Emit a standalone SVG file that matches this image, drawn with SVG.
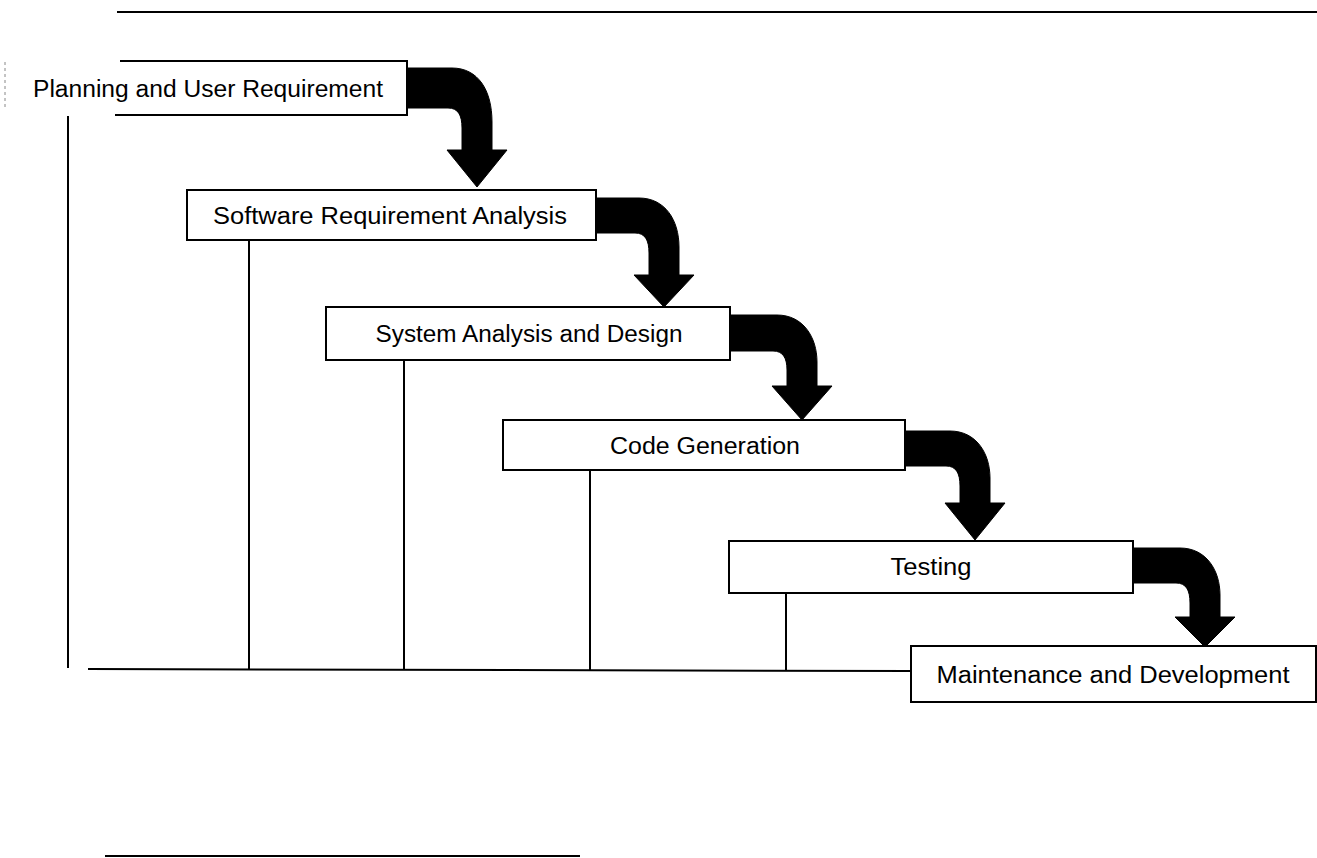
<svg xmlns="http://www.w3.org/2000/svg" width="1317" height="858" viewBox="0 0 1317 858">
<style>
.box{fill:#fff;stroke:#000;stroke-width:2}
.ln{fill:none;stroke:#000;stroke-width:2}
.lbl{font-family:"Liberation Sans",Arial,sans-serif;font-size:23px;fill:#000;text-anchor:middle;dominant-baseline:central}
.arr{fill:#000;stroke:#000;stroke-width:1}
</style>
<rect width="1317" height="858" fill="#fff"/>
<g id="frame">
<line class="ln" x1="117" y1="12" x2="1317" y2="12"/>
<line class="ln" x1="105" y1="856" x2="580" y2="856"/>
<line x1="5" y1="62" x2="5" y2="110" stroke="#888" stroke-width="1" stroke-dasharray="3,3"/>
</g>
<g id="connectors">
<line class="ln" x1="68" y1="116" x2="68" y2="668"/>
<line class="ln" x1="249" y1="240" x2="249" y2="669"/>
<line class="ln" x1="404" y1="360" x2="404" y2="669"/>
<line class="ln" x1="590" y1="470" x2="590" y2="670"/>
<line class="ln" x1="786" y1="593" x2="786" y2="671"/>
<line class="ln" x1="88" y1="669" x2="911" y2="671"/>
<path class="arr" d="M407,68 L452,68 C478,68 492,90 492,122 L492,150 L507,150 L477,187 L447,150 L462,150 L462,128 C462,115 458,108 448,108 L407,108 Z"/>
<path class="arr" d="M596,198 L639,198 C665,198 679,220 679,247 L679,275 L694,275 L664,307 L634,275 L649,275 L649,253 C649,240 645,233 635,233 L596,233 Z"/>
<path class="arr" d="M730,315 L777,315 C803,315 817,337 817,362 L817,386 L832,386 L802,420 L772,386 L787,386 L787,370 C787,358 783,351 773,351 L730,351 Z"/>
<path class="arr" d="M905,431 L950,431 C976,431 990,453 990,478 L990,503 L1005,503 L975,540 L945,503 L960,503 L960,486 C960,473 956,466 946,466 L905,466 Z"/>
<path class="arr" d="M1133,548 L1180,548 C1206,548 1220,570 1220,595 L1220,617 L1235,617 L1205,647 L1175,617 L1190,617 L1190,603 C1190,590 1186,583 1176,583 L1133,583 Z"/>
</g>
<g id="node-planning">
<rect x="118" y="62" width="289" height="53" fill="#fff"/>
<polyline class="ln" points="120,61 407,61 407,115 115,115"/>
<text class="lbl" x="208" y="89" textLength="350" lengthAdjust="spacingAndGlyphs">Planning and User Requirement</text>
</g>
<g id="node-software">
<rect class="box" x="187" y="190" width="409" height="50"/>
<text class="lbl" x="390" y="216" textLength="354" lengthAdjust="spacingAndGlyphs">Software Requirement Analysis</text>
</g>
<g id="node-system">
<rect class="box" x="326" y="307" width="404" height="53"/>
<text class="lbl" x="529" y="334" textLength="307" lengthAdjust="spacingAndGlyphs">System Analysis and Design</text>
</g>
<g id="node-code">
<rect class="box" x="503" y="420" width="402" height="50"/>
<text class="lbl" x="705" y="446" textLength="190" lengthAdjust="spacingAndGlyphs">Code Generation</text>
</g>
<g id="node-testing">
<rect class="box" x="729" y="541" width="404" height="52"/>
<text class="lbl" x="931" y="567" textLength="81" lengthAdjust="spacingAndGlyphs">Testing</text>
</g>
<g id="node-maintenance">
<rect class="box" x="911" y="646" width="405" height="56"/>
<text class="lbl" x="1113" y="675" textLength="353" lengthAdjust="spacingAndGlyphs">Maintenance and Development</text>
</g>
</svg>
